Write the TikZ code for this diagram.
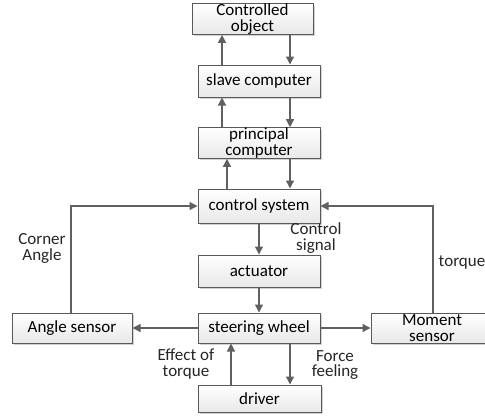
\documentclass[tikz,border=0pt]{standalone}
\usepackage{fontspec}
\setmainfont{Carlito}
\usetikzlibrary{arrows.meta,shadows}

\begin{document}
\begin{tikzpicture}[x=1pt,y=-1pt,font=\fontsize{17}{16}\selectfont,
  box/.style={draw=gray!70!black,line width=1pt,top color=white,bottom color=gray!18,
    drop shadow={shadow xshift=2pt,shadow yshift=-2pt,fill=gray!35,opacity=1},
    minimum width=122pt,inner sep=0pt,align=center},
  arr/.style={draw=gray!75!black,line width=1.3pt,-{Triangle[length=8pt,width=8pt]}},
  lbl/.style={align=center,text=black!85}]
\useasboundingbox (0,0) rectangle (485,416);
\coordinate (L1) at (222,0);
\coordinate (L2) at (227,0);
\coordinate (L3) at (231,0);
\coordinate (R) at (290,0);
\node[box,minimum width=121pt,minimum height=28pt] (obj) at (252.5,19) {Controlled\\object};
\node[box,minimum height=32pt] (slave) at (259,81) {slave computer};
\node[box,minimum height=30pt] (princ) at (259,143) {principal\\computer};
\node[box,minimum height=34pt] (ctrl) at (259,206) {control system};
\node[box,minimum height=32pt] (act) at (259,271) {actuator};
\node[box,minimum height=30pt] (wheel) at (259,328) {steering wheel};
\node[box,minimum width=120pt,minimum height=30pt] (angle) at (72,328) {Angle sensor};
\node[box,minimum height=30pt] (moment) at (432,328) {Moment\\sensor};
\node[box,minimum width=123pt,minimum height=27pt] (driver) at (259.5,398.5) {driver};
% connectors
\draw[arr] (slave.north -| L1) -- (obj.south -| L1);
\draw[arr] (obj.south -| R) -- (slave.north -| R);
\draw[arr] (princ.north -| L1) -- (slave.south -| L1);
\draw[arr] (slave.south -| R) -- (princ.north -| R);
\draw[arr] (ctrl.north -| L2) -- (princ.south -| L2);
\draw[arr] (princ.south -| R) -- (ctrl.north -| R);
\draw[arr] (ctrl) -- (act);
\draw[arr] (act) -- (wheel);
\draw[arr] (wheel.south -| R) -- (driver.north -| R);
\draw[arr] (driver.north -| L3) -- (wheel.south -| L3);
\draw[arr] (wheel) -- (angle);
\draw[arr] (wheel) -- (moment);
\draw[arr] ([xshift=-1pt]angle.north) |- (ctrl.west);
\draw[arr] ([xshift=1pt]moment.north) |- (ctrl.east);
% labels
\node[lbl] (corner) at (42,248) {Corner\\Angle};
\node[lbl] (signal) at (316,238) {Control\\signal};
\node[lbl] (torque) at (462,262) {torque};
\node[lbl] (effect) at (186,364) {Effect of\\torque};
\node[lbl] (force) at (335,365) {Force\\feeling};
\end{tikzpicture}
\end{document}
